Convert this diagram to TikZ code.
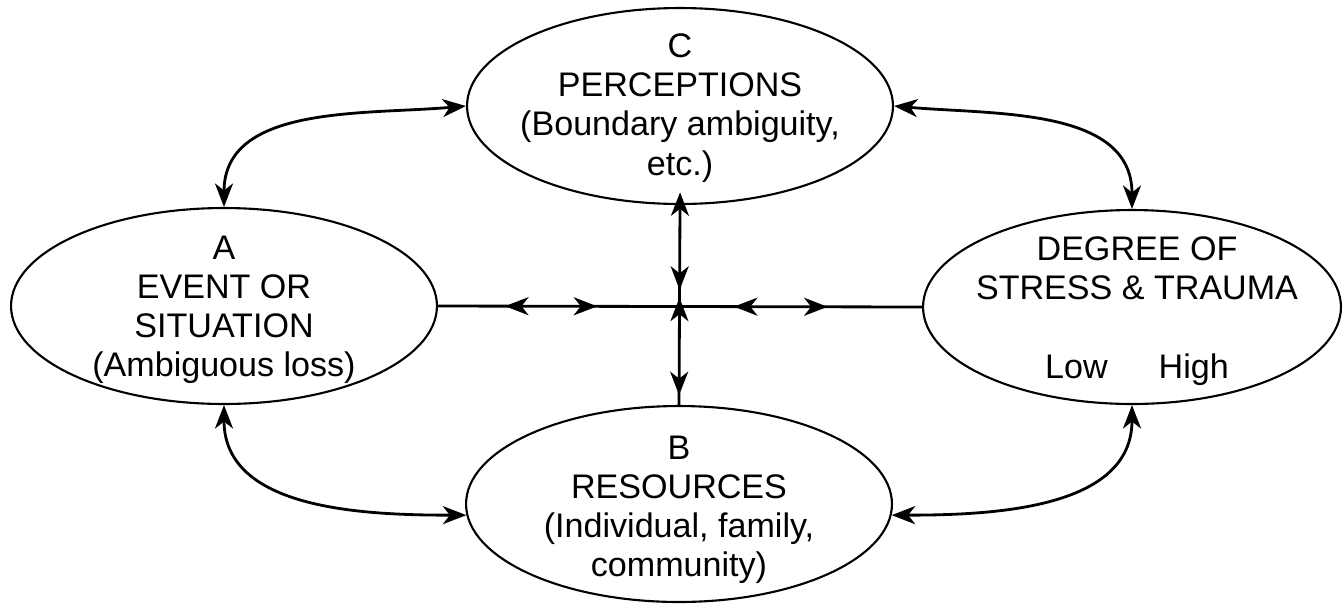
\documentclass[tikz,border=0pt]{standalone}
\usepackage{fontspec}
\setmainfont{Liberation Sans}
\usetikzlibrary{arrows.meta,shapes.geometric,decorations.markings}
\begin{document}
\begin{tikzpicture}[x=0.02cm,y=-0.02cm,
  >={Stealth[length=0.47cm,width=0.36cm,inset=0.14cm]},
  oval/.style={ellipse, draw, line width=1.2pt, minimum width=8.52cm,
    minimum height=3.92cm, inner sep=0pt},
  txt/.style={align=center, inner sep=0pt,
    font=\fontsize{19.4}{22.3}\selectfont},
  link/.style={line width=1.6pt},
  hmarks/.style={postaction={decorate,decoration={markings,
    mark=at position 0.187 with {\arrow{<}},
    mark=at position 0.329 with {\arrow{>}},
    mark=at position 0.660 with {\arrow{<}},
    mark=at position 0.805 with {\arrow{>}}}}},
  vmarks/.style={postaction={decorate,decoration={markings,
    mark=at position 0.054 with {\arrow{<}},
    mark=at position 0.424 with {\arrow{>}},
    mark=at position 0.581 with {\arrow{<}},
    mark=at position 0.951 with {\arrow{>}}}}}]
\useasboundingbox (0,0) rectangle (1344,606);

\node[oval] (C) at (680,106) {};
\node[oval] (A) at (224,306) {};
\node[oval, minimum width=8.36cm, minimum height=3.88cm] (D) at (1132,307) {};
\node[oval] (B) at (679,504) {};

\node[txt] (Ct) at (680,108) {C\\PERCEPTIONS\\(Boundary ambiguity,\\etc.)};
\node[txt] (At) at (224,310) {A\\EVENT OR\\SITUATION\\(Ambiguous loss)};
\node[txt] (Dt) at (1137,311) {DEGREE OF\\STRESS \& TRAUMA\\[0.78cm]Low\hspace{1.5em}High};
\node[txt] (Bt) at (679,510) {B\\RESOURCES\\(Individual, family,\\community)};

\draw[link,hmarks] (A.east) -- (D.west);
\draw[link,vmarks] (C.south) -- (B.north);

\draw[link,<->] (C.west) to[out=185,in=90] (A.north);
\draw[link,<->] (C.east) to[out=-5,in=90] (D.north);
\draw[link,<->] (A.south) to[out=-90,in=180] (B.183);
\draw[link,<->] (D.south) to[out=-90,in=0] (B.-3);
\end{tikzpicture}
\end{document}
